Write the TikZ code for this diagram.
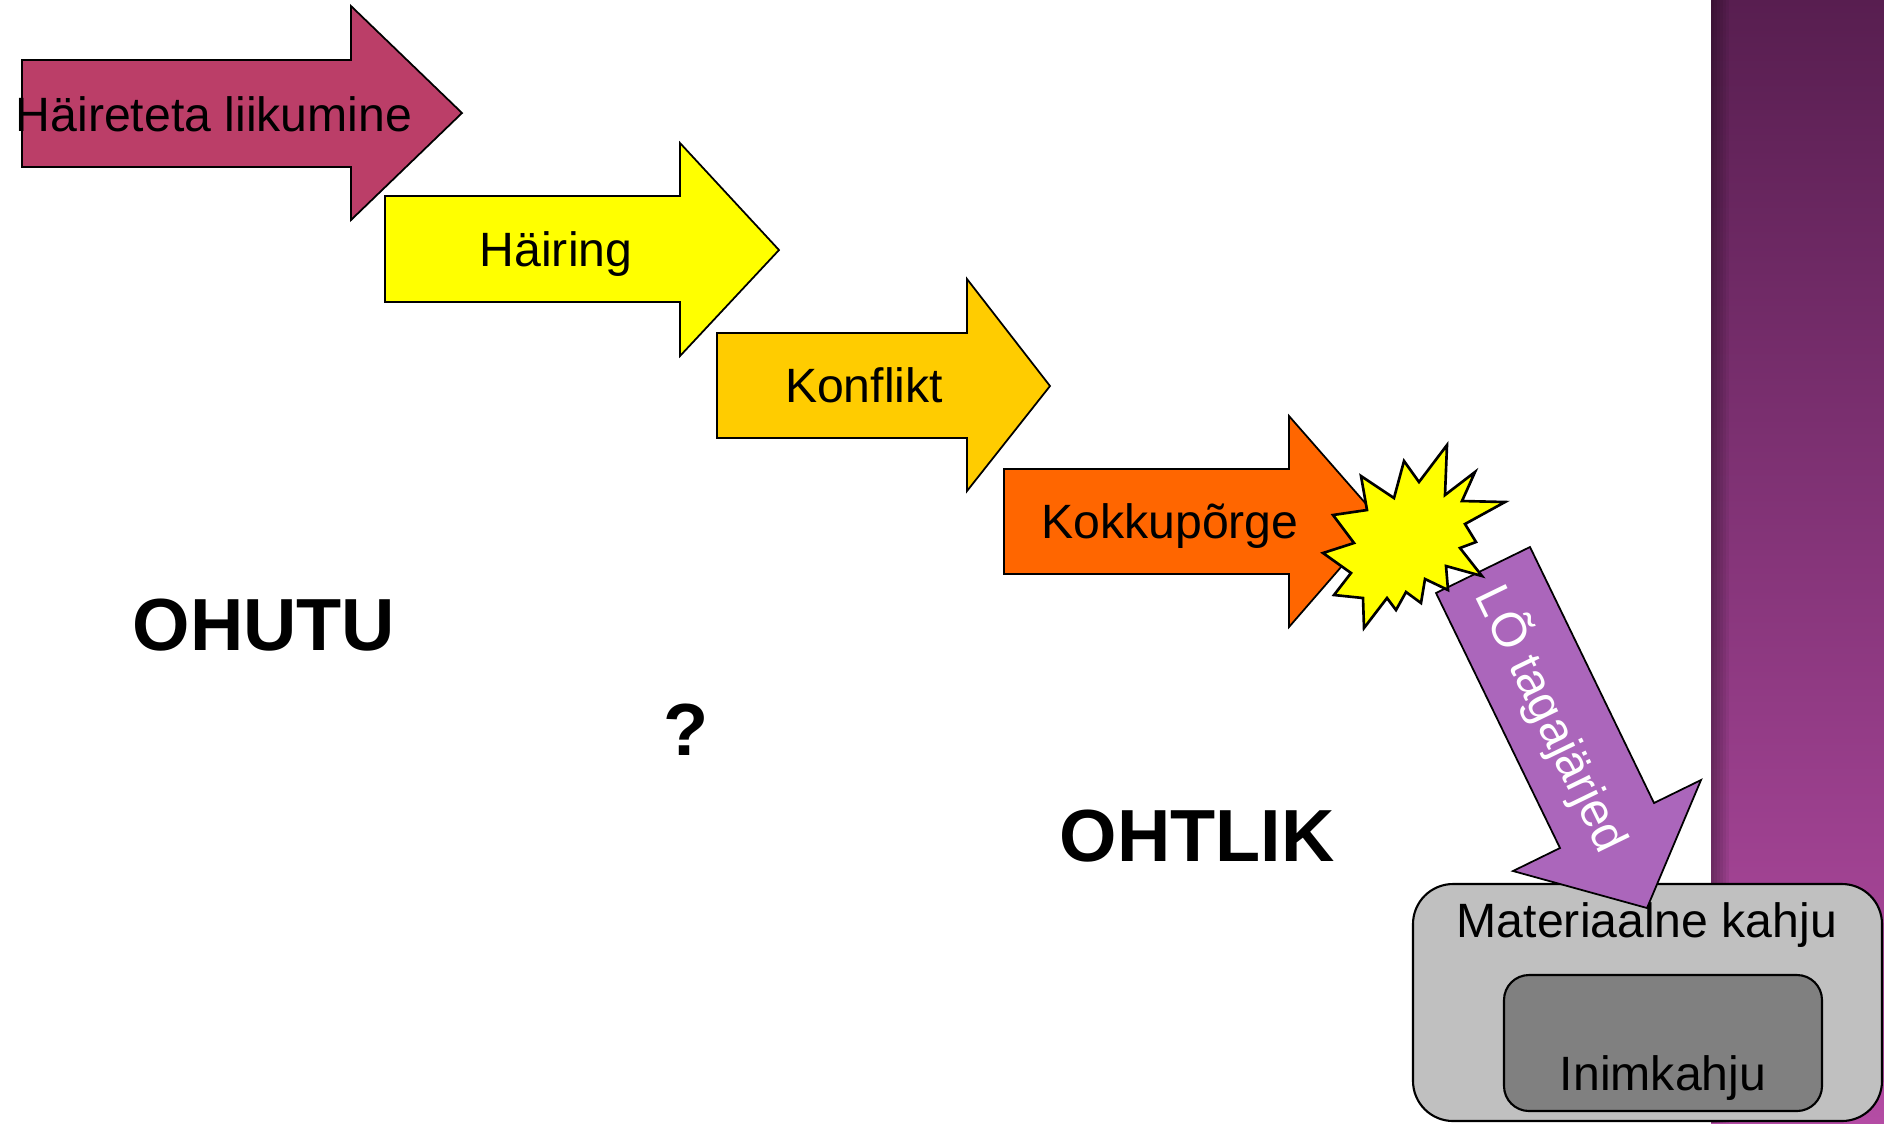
\documentclass[tikz,border=0pt]{standalone}
\usepackage{fontspec}
\setmainfont{Liberation Sans}
\usepackage{tikz}

\definecolor{flowpink}{RGB}{187,62,104}
\definecolor{flowyellow}{RGB}{255,255,0}
\definecolor{flowgold}{RGB}{255,204,0}
\definecolor{floworange}{RGB}{255,102,0}
\definecolor{flowviolet}{RGB}{171,102,187}
\definecolor{boxlight}{RGB}{192,192,192}
\definecolor{boxdark}{RGB}{128,128,128}
\definecolor{bgtop}{RGB}{88,30,80}
\definecolor{bgbottom}{RGB}{180,76,164}

\begin{document}
\begin{tikzpicture}[
    x=0.01cm, y=-0.01cm,
    stage/.style ={draw=black, line width=0.5pt, line join=miter},
    burst/.style ={draw=black, line width=0.75pt, fill=flowyellow, line join=miter},
    damage/.style={draw=black, line width=0.6pt},
    label/.style ={font=\fontsize{13.7}{16}\selectfont, inner sep=0pt, anchor=base},
    zone/.style  ={font=\fontsize{21}{25}\selectfont\bfseries, inner sep=0pt, anchor=base},
]
\useasboundingbox (0,0) rectangle (1884,1123);
% slide background on the right
\shade[top color=bgtop, bottom color=bgbottom] (1711,0) rectangle (1884,1123);
\foreach \w in {3,6,...,18}
  \fill[black, opacity=0.06] (1711,0) rectangle (1711+\w,1123);

% consequences box
\draw[damage, fill=boxlight, rounded corners=0.4cm] (1413,884) rectangle (1882,1121);
\draw[damage, fill=boxdark,  rounded corners=0.25cm] (1504,975) rectangle (1822,1111);
\node[label] (matdmg) at (1647,937)  {Materiaalne kahju};
\node[label] (humdmg) at (1663,1090) {Inimkahju};

% stages
\draw[stage, fill=flowpink]   (22,60) -- (351,60) -- (351,6) -- (462,113) -- (351,220) -- (351,167) -- (22,167) -- cycle;
\draw[stage, fill=flowyellow] (385,196) -- (680,196) -- (680,143) -- (779,250) -- (680,356) -- (680,302) -- (385,302) -- cycle;
\draw[stage, fill=flowgold]   (717,333) -- (967,333) -- (967,279) -- (1050,386) -- (967,491) -- (967,438) -- (717,438) -- cycle;
\draw[stage, fill=floworange] (1004,469) -- (1289,469) -- (1289,416) -- (1381,521) -- (1289,627) -- (1289,574) -- (1004,574) -- cycle;
\node[label] (free)  at (214,131)  {Häireteta liikumine};
\node[label] (dist)  at (556,266)  {Häiring};
\node[label] (confl) at (864,402)  {Konflikt};
\node[label] (crash) at (1170,538) {Kokkupõrge};

% consequences arrow
\draw[stage, fill=flowviolet] (1436,593) -- (1530,547) -- (1654,803) -- (1701,780) -- (1647,908) -- (1513,871) -- (1560,848) -- cycle;
\node[font=\fontsize{13.7}{16}\selectfont, text=white, inner sep=0pt, rotate=-64.1] (conseq) at (1552,719) {LÕ tagajärjed};

% collision burst
\draw[burst] (1447,445) -- (1445,495) -- (1475,472) -- (1462,501) -- (1505,502) -- (1465,524)
  -- (1476,542) -- (1460,548) -- (1482,576) -- (1446,566) -- (1448,590) -- (1425,579)
  -- (1421,603) -- (1406,592) -- (1396,610) -- (1387,598) -- (1364,628) -- (1363,598)
  -- (1334,595) -- (1351,573) -- (1323,553) -- (1354,543) -- (1333,515) -- (1367,510)
  -- (1361,476) -- (1394,498) -- (1404,461) -- (1419,482) -- cycle;

% zones
\node[zone] (safe)    at (264,650)  {OHUTU};
\node[zone] (unknown) at (686,755)  {?};
\node[zone] (danger)  at (1197,861) {OHTLIK};
\end{tikzpicture}
\end{document}
